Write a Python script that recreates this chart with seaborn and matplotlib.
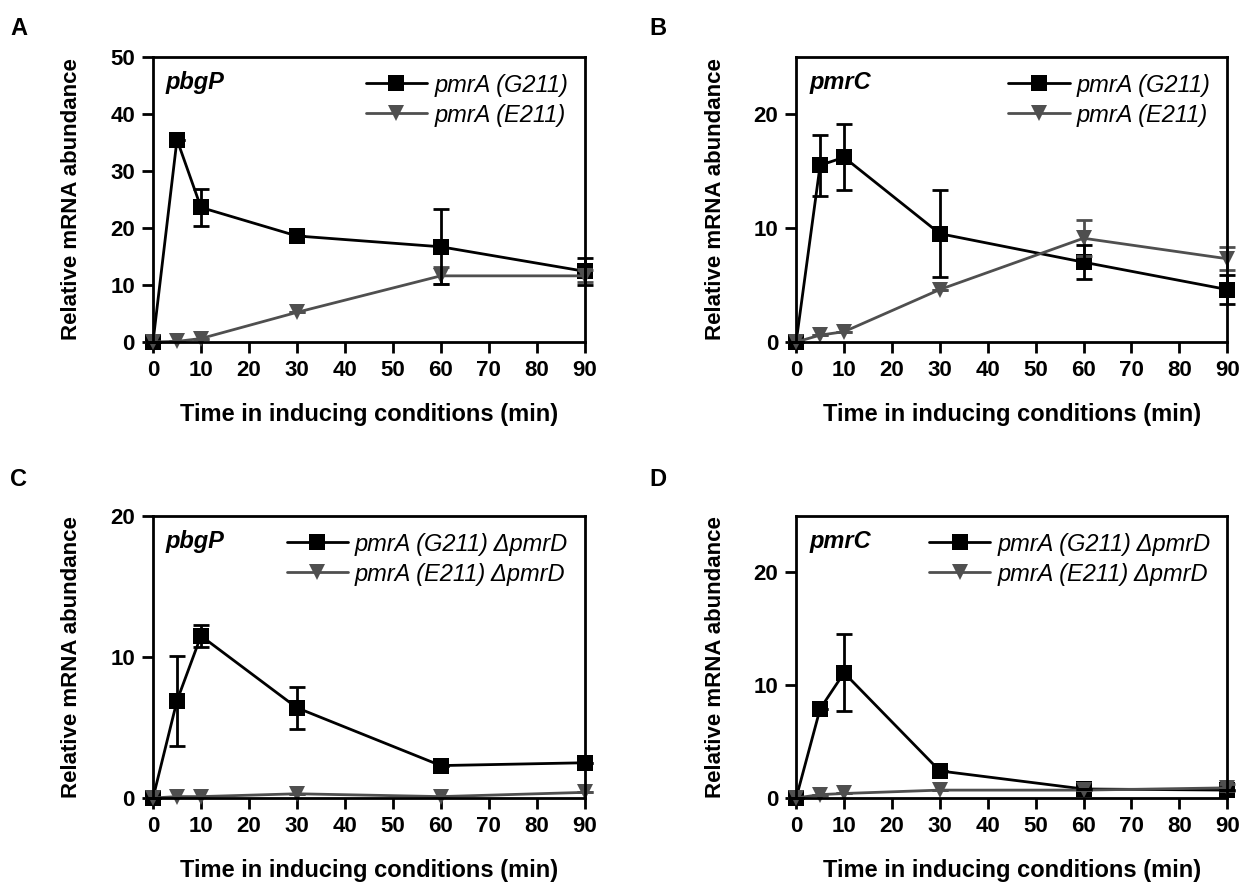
import numpy as np
import pandas as pd
import matplotlib
matplotlib.use("Agg")
import matplotlib.pyplot as plt
import seaborn as sns

sns.set_style("ticks")
plt.rcParams["font.family"] = ["Liberation Sans", "DejaVu Sans"]
plt.rcParams["font.weight"] = "bold"
plt.rcParams["axes.labelweight"] = "bold"
plt.rcParams["text.color"] = "black"
plt.rcParams["axes.labelcolor"] = "black"
plt.rcParams["xtick.color"] = "black"
plt.rcParams["ytick.color"] = "black"

time = [0, 5, 10, 30, 60, 90]

# panel A - pbgP
a_g211 = [0, 35.5, 23.6, 18.6, 16.7, 12.4]
a_g211_err = [0, 0, 3.3, 0, 6.6, 2.4]
a_e211 = [0, 0.1, 0.6, 5.2, 11.6, 11.6]
a_e211_err = [0, 0, 0, 0, 1.5, 1.0]

# panel B - pmrC
b_g211 = [0, 15.5, 16.2, 9.5, 7.0, 4.6]
b_g211_err = [0, 2.7, 2.9, 3.8, 1.5, 1.3]
b_e211 = [0, 0.6, 0.9, 4.6, 9.1, 7.3]
b_e211_err = [0, 0, 0, 0, 1.6, 1.0]

# panel C - pbgP, pmrD deletion
c_g211 = [0, 6.9, 11.5, 6.4, 2.3, 2.5]
c_g211_err = [0, 3.2, 0.8, 1.5, 0, 0]
c_e211 = [0, 0.1, 0.1, 0.3, 0.1, 0.4]
c_e211_err = [0, 0, 0, 0, 0, 0]

# panel D - pmrC, pmrD deletion
d_g211 = [0, 7.9, 11.1, 2.4, 0.8, 0.7]
d_g211_err = [0, 0, 3.4, 0, 0, 0]
d_e211 = [0, 0.3, 0.4, 0.7, 0.7, 0.9]
d_e211_err = [0, 0, 0, 0, 0, 0.3]

black = "#000000"
grey = "#4f4f4f"

panels = [
    ("A", "pbgP", ["pmrA (G211)", "pmrA (E211)"], a_g211, a_g211_err, a_e211, a_e211_err, 50, [0, 10, 20, 30, 40, 50]),
    ("B", "pmrC", ["pmrA (G211)", "pmrA (E211)"], b_g211, b_g211_err, b_e211, b_e211_err, 25, [0, 10, 20]),
    ("C", "pbgP", ["pmrA (G211) \u0394pmrD", "pmrA (E211) \u0394pmrD"], c_g211, c_g211_err, c_e211, c_e211_err, 20, [0, 10, 20]),
    ("D", "pmrC", ["pmrA (G211) \u0394pmrD", "pmrA (E211) \u0394pmrD"], d_g211, d_g211_err, d_e211, d_e211_err, 25, [0, 10, 20]),
]

rects = [
    [0.1230, 0.6136, 0.3470, 0.3220],
    [0.6400, 0.6136, 0.3465, 0.3220],
    [0.1230, 0.0983, 0.3470, 0.3186],
    [0.6400, 0.0983, 0.3465, 0.3186],
]
letter_pos = [(0.008, 0.968), (0.522, 0.968), (0.008, 0.458), (0.522, 0.458)]

fig = plt.figure(figsize=(12.44, 8.85), dpi=100)

for (letter, gene, labels, g, ge, e, ee, ymax, yticks), rect, lp in zip(panels, rects, letter_pos):
    ax = fig.add_axes(rect)
    df = pd.DataFrame({
        "time": time + time,
        "value": g + e,
        "strain": [labels[0]] * len(time) + [labels[1]] * len(time),
    })
    sns.lineplot(data=df, x="time", y="value", hue="strain", style="strain",
                 markers=["s", "v"], dashes=False, palette=[black, grey],
                 markersize=11, linewidth=2, markeredgewidth=0, ax=ax)
    for ln in ax.get_lines():
        ln.set_clip_on(False)
    ax.errorbar(time, e, yerr=ee, fmt="none", ecolor=grey, elinewidth=2,
                capsize=6, capthick=2, clip_on=False)
    ax.errorbar(time, g, yerr=ge, fmt="none", ecolor=black, elinewidth=2,
                capsize=6, capthick=2, clip_on=False)

    handles, labs = ax.get_legend_handles_labels()
    ax.legend(handles, labs, loc="upper right", frameon=False,
              prop={"style": "italic", "weight": "normal", "size": 17},
              handlelength=2.6, handletextpad=0.3, labelspacing=0.3,
              borderaxespad=0.3, bbox_to_anchor=(1.0, 1.0))

    ax.set_xlim(0, 90)
    ax.set_ylim(0, ymax)
    ax.set_xticks(np.arange(0, 91, 10))
    ax.set_yticks(yticks)
    for side in ["top", "right", "bottom", "left"]:
        ax.spines[side].set_visible(True)
        ax.spines[side].set_linewidth(2)
        ax.spines[side].set_color("black")
    ax.tick_params(axis="both", direction="out", length=8, width=2,
                   labelsize=16, pad=5, color="black")
    for t in ax.get_xticklabels() + ax.get_yticklabels():
        t.set_fontweight("bold")
    ax.set_xlabel("Time in inducing conditions (min)", fontsize=17,
                  fontweight="bold", labelpad=16)
    ax.set_ylabel("Relative mRNA abundance", fontsize=16,
                  fontweight="bold", labelpad=20)
    ax.text(0.03, 0.91, gene, transform=ax.transAxes, fontsize=17,
            fontweight="bold", fontstyle="italic", va="center", ha="left")
    fig.text(lp[0], lp[1], letter, fontsize=17, fontweight="bold",
             va="center", ha="left")

fig.savefig("out.png", dpi=100)
